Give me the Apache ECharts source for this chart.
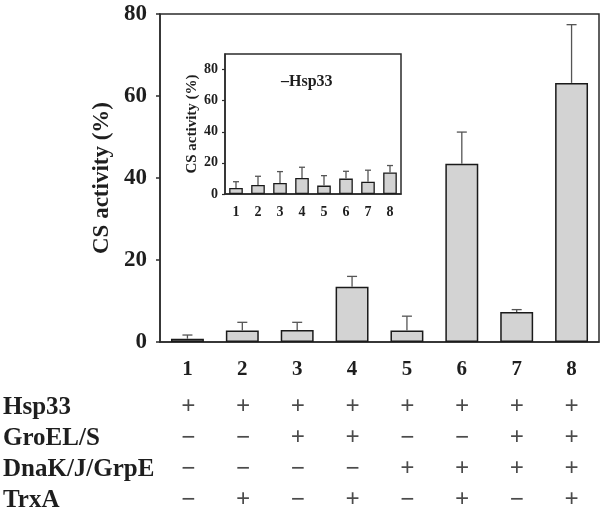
<!DOCTYPE html>
<html>
<head>
<meta charset="utf-8">
<script src="https://cdn.jsdelivr.net/npm/echarts@6/dist/echarts.min.js"></script>
<style>
  html, body { margin: 0; padding: 0; background: #fff; }
  #chart { width: 600px; height: 516px; }
</style>
</head>
<body>
<div id="chart"></div>
<script>
// lanes 1..8
const lanes = ["1", "2", "3", "4", "5", "6", "7", "8"];

// main panel (+Hsp33): mean and upper error (sd)
const mainMean = [0.8, 2.8, 2.9, 13.5, 2.8, 43.5, 7.3, 63.2];
const mainErr = [0.9, 2.0, 1.9, 2.5, 3.5, 7.7, 0.6, 14.2];

// inset (-Hsp33)
const insetMean = [3.9, 5.8, 7.1, 10.3, 5.4, 9.9, 7.9, 13.8];
const insetErr = [4.0, 5.6, 7.3, 6.9, 6.4, 4.7, 7.4, 4.5];

const mainTicks = [0, 20, 40, 60, 80];
const insetTicks = [0, 20, 40, 60, 80];

// table below the chart
const rowNames = ["Hsp33", "GroEL/S", "DnaK/J/GrpE", "TrxA"];
const hsp33 = ["+", "+", "+", "+", "+", "+", "+", "+"];
const groEL = ["−", "−", "+", "+", "−", "−", "+", "+"];
const dnaK = ["−", "−", "−", "−", "+", "+", "+", "+"];
const trxA = ["−", "+", "−", "+", "−", "+", "−", "+"];

const FONT = "'Liberation Serif', 'Times New Roman', serif";
const INK = "#1e1e1e";

const tableRows = [hsp33, groEL, dnaK, trxA];
const tableData = [];
tableRows.forEach((row, r) => {
  row.forEach((s, c) => tableData.push([c, r, s]));
});

// upper whisker + cap
const errorItem = (means, errs, capW) => (params, api) => {
  const i = api.value(0);
  const base = api.coord([i, means[i]]);
  const top = api.coord([i, means[i] + errs[i]]);
  const style = { stroke: "#555", lineWidth: 1.3 };
  return {
    type: "group",
    children: [
      { type: "line", shape: { x1: base[0], y1: base[1], x2: top[0], y2: top[1] }, style },
      { type: "line", shape: { x1: top[0] - capW / 2, y1: top[1], x2: top[0] + capW / 2, y2: top[1] }, style }
    ]
  };
};

const myChart = echarts.init(document.getElementById("chart"));
const option = {
  animation: false,
  textStyle: { fontFamily: FONT, color: INK },
  grid: [
    { left: 160, top: 14, width: 439, height: 328, show: true, borderColor: "#2b2b2b", borderWidth: 1.5 },
    { left: 225, top: 54, width: 176, height: 140, show: true, borderColor: "#2b2b2b", borderWidth: 1.5, backgroundColor: "#fff", z: 3 },
    { left: 160, top: 392, width: 439, height: 127 }
  ],
  graphic: [
    {
      type: "text", left: 281, top: 74, z: 10,
      style: { text: "–Hsp33", font: "bold 16px " + FONT, fill: INK }
    }
  ],
  xAxis: [
    {
      type: "category", gridIndex: 0, data: lanes,
      axisLine: { lineStyle: { color: "#2b2b2b", width: 1.5 } },
      axisTick: { alignWithLabel: true, length: 5, lineStyle: { color: "#2b2b2b", width: 1.5 } },
      axisLabel: { fontSize: 21, fontWeight: "bold", fontFamily: FONT, color: INK, margin: 17 }
    },
    {
      type: "category", gridIndex: 1, data: lanes, z: 4,
      axisLine: { lineStyle: { color: "#2b2b2b", width: 1.5 } },
      axisTick: { alignWithLabel: true, length: 3, lineStyle: { color: "#2b2b2b", width: 1.2 } },
      axisLabel: { fontSize: 14, fontWeight: "bold", fontFamily: FONT, color: INK, margin: 11 }
    },
    {
      type: "category", gridIndex: 2, data: lanes,
      axisLine: { show: false }, axisTick: { show: false }, axisLabel: { show: false }
    }
  ],
  yAxis: [
    {
      type: "value", gridIndex: 0, min: 0, max: 80, interval: 20,
      name: "CS activity (%)", nameLocation: "middle", nameGap: 45,
      nameTextStyle: { fontSize: 23, fontWeight: "bold", fontFamily: FONT, color: INK },
      splitLine: { show: false },
      axisLine: { show: true, lineStyle: { color: "#2b2b2b", width: 1.5 } },
      axisTick: { show: true, length: 4, lineStyle: { color: "#2b2b2b", width: 1.5 } },
      axisLabel: { fontSize: 23, fontWeight: "bold", fontFamily: FONT, color: INK, margin: 13, customValues: mainTicks }
    },
    {
      type: "value", gridIndex: 1, min: 0, max: 90, z: 4,
      name: "CS activity (%)", nameLocation: "middle", nameGap: 24,
      nameTextStyle: { fontSize: 15, fontWeight: "bold", fontFamily: FONT, color: INK },
      splitLine: { show: false },
      axisLine: { show: true, lineStyle: { color: "#2b2b2b", width: 1.5 } },
      axisTick: { show: true, length: 3, customValues: insetTicks, lineStyle: { color: "#2b2b2b", width: 1.2 } },
      axisLabel: { fontSize: 14, fontWeight: "bold", fontFamily: FONT, color: INK, margin: 7, customValues: insetTicks }
    },
    {
      type: "category", gridIndex: 2, data: rowNames, inverse: true,
      axisLine: { show: false }, axisTick: { show: false },
      axisLabel: { interval: 0, align: "left", margin: 158, fontSize: 25, fontWeight: "bold", fontFamily: FONT, color: INK }
    }
  ],
  series: [
    {
      type: "bar", xAxisIndex: 0, yAxisIndex: 0, data: mainMean, barWidth: "60%",
      itemStyle: { color: "#d3d3d3", borderColor: "#1a1a1a", borderWidth: 1.5 }
    },
    {
      type: "custom", xAxisIndex: 0, yAxisIndex: 0, z: 3,
      data: lanes.map((l, i) => [i, mainMean[i] + mainErr[i]]),
      renderItem: errorItem(mainMean, mainErr, 10)
    },
    {
      type: "bar", xAxisIndex: 1, yAxisIndex: 1, data: insetMean, barWidth: "62%", z: 5,
      itemStyle: { color: "#d3d3d3", borderColor: "#1a1a1a", borderWidth: 1.3 }
    },
    {
      type: "custom", xAxisIndex: 1, yAxisIndex: 1, z: 6,
      data: lanes.map((l, i) => [i, insetMean[i] + insetErr[i]]),
      renderItem: errorItem(insetMean, insetErr, 6)
    },
    {
      type: "scatter", xAxisIndex: 2, yAxisIndex: 2, data: tableData,
      symbolSize: 1, itemStyle: { color: "transparent" },
      label: {
        show: true, position: "inside", formatter: (p) => p.value[2],
        fontSize: 25, fontWeight: "bold", fontFamily: FONT, color: INK
      }
    }
  ]
};
option && myChart.setOption(option);
</script>
</body>
</html>
